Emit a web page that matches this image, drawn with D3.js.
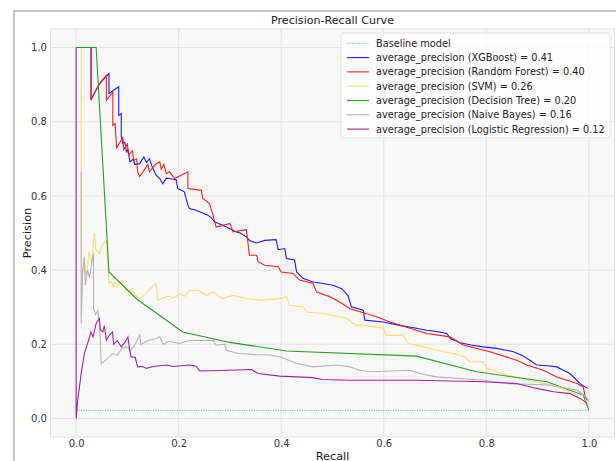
<!DOCTYPE html>
<html><head><meta charset="utf-8">
<script src="https://cdn.jsdelivr.net/npm/d3@7/dist/d3.min.js"></script>
<style>body{margin:0;background:#fff;overflow:hidden}</style>
</head><body><svg id="c" width="616" height="461"></svg>
<script>
// ---- data ----
const tickValues = [0, 0.2, 0.4, 0.6, 0.8, 1.0];
const seriesNames = ["XGBoost", "Random Forest", "SVM", "Decision Tree", "Naive Bayes", "Logistic Regression"];
const avgPrecision = [0.41, 0.40, 0.26, 0.20, 0.16, 0.12];
const seriesColors = ["#1a1aff", "#ff1a1a", "#ffdc6e", "#22a022", "#b4b4b4", "#a31fa3"];
const baselineRecall = [0, 1];
const baselinePrecision = [0.022, 0.022];

const xgbRecall = [0,0.029,0.029,0.047,0.064,0.064,0.083,0.083,0.088,0.088,0.091,0.095,0.098,0.101,0.105,0.112,0.114,0.124,0.132,0.137,0.143,0.148,0.156,0.163,0.169,0.176,0.182,0.189,0.195,0.198,0.205,0.211,0.218,0.221,0.232,0.241,0.25,0.257,0.264,0.27,0.28,0.293,0.3125,0.32,0.332,0.338,0.352,0.368,0.39,0.394,0.407,0.41,0.426,0.43,0.443,0.462,0.482,0.501,0.518,0.53,0.537,0.56,0.563,0.599,0.631,0.664,0.684,0.70,0.723,0.73,0.749,0.77,0.794,0.82,0.853,0.87,0.885,0.898,0.92,0.9375,0.95,0.963,0.975,0.983,0.997];
const xgbPrecision = [1,1,0.86,0.905,0.93,0.876,0.894,0.817,0.822,0.76,0.741,0.745,0.719,0.725,0.692,0.70,0.685,0.687,0.705,0.69,0.70,0.68,0.656,0.647,0.633,0.648,0.647,0.645,0.644,0.62,0.615,0.611,0.575,0.566,0.562,0.557,0.552,0.548,0.54,0.53,0.524,0.516,0.503,0.50,0.49,0.48,0.473,0.48,0.482,0.455,0.458,0.431,0.427,0.395,0.377,0.368,0.364,0.359,0.35,0.332,0.301,0.292,0.265,0.26,0.251,0.243,0.238,0.235,0.229,0.215,0.204,0.198,0.193,0.189,0.18,0.17,0.157,0.144,0.142,0.139,0.13,0.121,0.105,0.094,0.081];

const rfRecall = [0,0.029,0.029,0.04,0.05,0.059,0.059,0.0715,0.0715,0.076,0.079,0.091,0.093,0.1,0.102,0.11,0.112,0.118,0.12,0.124,0.14,0.143,0.156,0.163,0.166,0.171,0.176,0.182,0.192,0.218,0.218,0.244,0.247,0.26,0.267,0.273,0.3,0.306,0.332,0.338,0.352,0.355,0.368,0.394,0.40,0.423,0.436,0.462,0.469,0.495,0.514,0.534,0.56,0.586,0.612,0.651,0.684,0.729,0.755,0.807,0.859,0.879,0.911,0.9375,0.977,0.989,0.993,0.997];
const rfPrecision = [1,1,0.858,0.89,0.91,0.925,0.858,0.88,0.79,0.795,0.73,0.757,0.725,0.74,0.71,0.722,0.695,0.70,0.665,0.652,0.685,0.665,0.687,0.692,0.672,0.685,0.66,0.665,0.647,0.665,0.62,0.615,0.593,0.58,0.548,0.516,0.526,0.503,0.509,0.44,0.44,0.422,0.413,0.409,0.395,0.391,0.373,0.364,0.341,0.328,0.314,0.296,0.285,0.274,0.26,0.243,0.229,0.22,0.198,0.18,0.157,0.144,0.13,0.112,0.094,0.085,0.058,0.049];

const svmRecall = [0,0.0098,0.0098,0.011,0.016,0.02,0.025,0.03,0.036,0.038,0.0455,0.05,0.059,0.064,0.068,0.072,0.075,0.08,0.085,0.091,0.095,0.101,0.11,0.117,0.124,0.135,0.145,0.156,0.159,0.18,0.19,0.202,0.213,0.221,0.2375,0.254,0.267,0.286,0.306,0.332,0.364,0.397,0.41,0.417,0.443,0.449,0.482,0.527,0.547,0.56,0.599,0.605,0.638,0.648,0.677,0.703,0.736,0.758,0.768,0.794,0.801,0.84,0.885,0.924,0.957,0.977,0.983,0.999];
const svmPrecision = [1,1,0.49,0.382,0.427,0.38,0.45,0.42,0.50,0.455,0.445,0.465,0.48,0.364,0.37,0.355,0.368,0.355,0.365,0.373,0.35,0.341,0.35,0.33,0.323,0.335,0.35,0.364,0.319,0.33,0.325,0.335,0.33,0.345,0.346,0.332,0.341,0.323,0.332,0.323,0.319,0.323,0.328,0.305,0.301,0.287,0.283,0.27,0.251,0.251,0.243,0.224,0.224,0.202,0.193,0.184,0.175,0.166,0.153,0.153,0.135,0.117,0.103,0.09,0.076,0.063,0.04,0.036];

const dtRecall = [0,0.039,0.064,0.12,0.208,0.30,0.41,0.664,0.781,0.918,0.989,1.0];
const dtPrecision = [1,1,0.395,0.32,0.233,0.205,0.182,0.168,0.126,0.099,0.063,0.022];

const nbRecall = [0.0098,0.0098,0.013,0.016,0.018,0.022,0.026,0.032,0.034,0.034,0.038,0.042,0.0455,0.049,0.06,0.071,0.08,0.09,0.101,0.105,0.115,0.124,0.126,0.14,0.156,0.163,0.17,0.182,0.202,0.221,0.267,0.273,0.29,0.293,0.316,0.35,0.378,0.40,0.43,0.462,0.508,0.534,0.553,0.573,0.651,0.67,0.703,0.794,0.846,0.924,0.977,0.995,1.0];
const nbPrecision = [0.665,0.256,0.40,0.436,0.36,0.40,0.38,0.431,0.445,0.296,0.28,0.29,0.256,0.148,0.16,0.175,0.17,0.19,0.193,0.18,0.2,0.225,0.2,0.21,0.215,0.22,0.2,0.208,0.202,0.21,0.211,0.198,0.2,0.184,0.175,0.172,0.171,0.165,0.148,0.139,0.144,0.139,0.13,0.126,0.13,0.121,0.112,0.103,0.094,0.09,0.076,0.058,0.045];

const lrRecall = [0,0,0.003,0.0065,0.0098,0.013,0.016,0.023,0.029,0.033,0.039,0.0455,0.047,0.052,0.055,0.059,0.065,0.071,0.073,0.08,0.088,0.095,0.101,0.104,0.107,0.115,0.12,0.13,0.137,0.15,0.176,0.19,0.221,0.234,0.241,0.3,0.342,0.355,0.397,0.462,0.48,0.534,0.664,0.794,0.859,0.898,0.931,0.963,0.983,0.997];
const lrPrecision = [1,0,0.049,0.085,0.121,0.148,0.175,0.205,0.233,0.22,0.256,0.27,0.24,0.233,0.25,0.211,0.225,0.233,0.2,0.21,0.193,0.205,0.22,0.19,0.166,0.165,0.139,0.14,0.135,0.14,0.144,0.14,0.144,0.141,0.128,0.13,0.132,0.121,0.114,0.11,0.105,0.103,0.103,0.099,0.094,0.081,0.072,0.067,0.054,0.04];

const recalls = [xgbRecall, rfRecall, svmRecall, dtRecall, nbRecall, lrRecall];
const precisions = [xgbPrecision, rfPrecision, svmPrecision, dtPrecision, nbPrecision, lrPrecision];

// ---- drawing ----
const FONT = "'DejaVu Sans', sans-serif";
const svg = d3.select('#c');
const L = 50.5, R = 614.5, T = 29, B = 437;

// size a text so that its rendered width equals the target width
function fitSize(sel, target) {
  sel.attr('font-size', 10);
  const w = sel.node().getComputedTextLength();
  const fs = w > 0 ? 10 * target / w : 10;
  sel.attr('font-size', fs);
  return fs;
}

// outer notebook frame
svg.append('rect').attr('x', 14).attr('y', 11).attr('width', 720).attr('height', 520)
  .attr('fill', 'none').attr('stroke', '#c6c6c6').attr('stroke-width', 2);

const x = d3.scaleLinear().domain([-0.05, 1.05]).range([L, R]);
const y = d3.scaleLinear().domain([-0.05, 1.05]).range([B, T]);

svg.append('rect').attr('x', L).attr('y', T).attr('width', R - L).attr('height', B - T)
  .attr('fill', '#f8f8f8').attr('stroke', '#e2e2e2').attr('stroke-width', 1);

// grid
const g = svg.append('g');
g.selectAll('.vx').data(tickValues).enter().append('line')
  .attr('x1', d => x(d)).attr('x2', d => x(d)).attr('y1', T).attr('y2', B)
  .attr('stroke', '#e3e3e3').attr('stroke-width', 1);
g.selectAll('.hy').data(tickValues).enter().append('line')
  .attr('y1', d => y(d)).attr('y2', d => y(d)).attr('x1', L).attr('x2', R)
  .attr('stroke', '#e3e3e3').attr('stroke-width', 1);

// clip
svg.append('clipPath').attr('id', 'clip').append('rect')
  .attr('x', L).attr('y', T).attr('width', R - L).attr('height', B - T);
const plot = svg.append('g').attr('clip-path', 'url(#clip)');

const line = d3.line().x(d => x(d[0])).y(d => y(d[1]));

plot.append('path').datum(d3.zip(baselineRecall, baselinePrecision))
  .attr('d', line).attr('fill', 'none').attr('stroke', '#3cc8ec')
  .attr('stroke-width', 1).attr('stroke-dasharray', '1.2,1.2');

recalls.forEach((r, i) => {
  plot.append('path').datum(d3.zip(r, precisions[i]))
    .attr('d', line).attr('fill', 'none').attr('stroke', seriesColors[i])
    .attr('stroke-width', 1.1).attr('stroke-linejoin', 'miter');
});

// legend
const lg = svg.append('g');
lg.append('rect').attr('x', 341).attr('y', 33).attr('width', 269).attr('height', 105).attr('rx', 3)
  .attr('fill', '#ffffff').attr('fill-opacity', 0.8).attr('stroke', '#e2e2e2');
const legendLabels = ['Baseline model'].concat(seriesNames.map((n, i) => `average_precision (${n}) = ${avgPrecision[i].toFixed(2)}`));
const legendColors = ['#3cc8ec'].concat(seriesColors);
const legendTexts = [];
legendLabels.forEach((t, i) => {
  const yy = 43.3 + i * 14.3;
  lg.append('line').attr('x1', 347).attr('x2', 369).attr('y1', yy).attr('y2', yy)
    .attr('stroke', legendColors[i]).attr('stroke-width', 1.1)
    .attr('stroke-dasharray', i === 0 ? '1.2,1.2' : null);
  legendTexts.push(lg.append('text').attr('x', 376).attr('y', yy).attr('dy', '0.35em')
    .attr('font-family', FONT).attr('fill', '#222').text(t));
});
const legFs = fitSize(legendTexts[legendTexts.length - 1], 229);
legendTexts.forEach(t => t.attr('font-size', legFs));

// axes (labels only)
const tickFs = legFs * 1.03;
const xAxis = svg.append('g').attr('transform', `translate(0,${B})`)
  .call(d3.axisBottom(x).tickValues(tickValues).tickFormat(d3.format('.1f')).tickSize(0).tickPadding(2.5));
const yAxis = svg.append('g').attr('transform', `translate(${L},0)`)
  .call(d3.axisLeft(y).tickValues(tickValues).tickFormat(d3.format('.1f')).tickSize(0).tickPadding(3.5));
[xAxis, yAxis].forEach(a => {
  a.select('.domain').remove();
  a.selectAll('text').attr('font-family', FONT).attr('font-size', tickFs).attr('fill', '#333');
});

// title & labels
svg.append('text').attr('x', (L + R) / 2).attr('y', 24).attr('text-anchor', 'middle')
  .attr('font-family', FONT).attr('font-size', legFs * 1.14).attr('fill', '#222').text('Precision-Recall Curve');
svg.append('text').attr('x', (L + R) / 2).attr('y', 459.5).attr('text-anchor', 'middle')
  .attr('font-family', FONT).attr('font-size', legFs * 1.16).attr('fill', '#222').text('Recall');
svg.append('text').attr('transform', `translate(30.5,${(T + B) / 2}) rotate(-90)`).attr('text-anchor', 'middle')
  .attr('font-family', FONT).attr('font-size', legFs * 1.16).attr('fill', '#222').text('Precision');
</script></body></html>
